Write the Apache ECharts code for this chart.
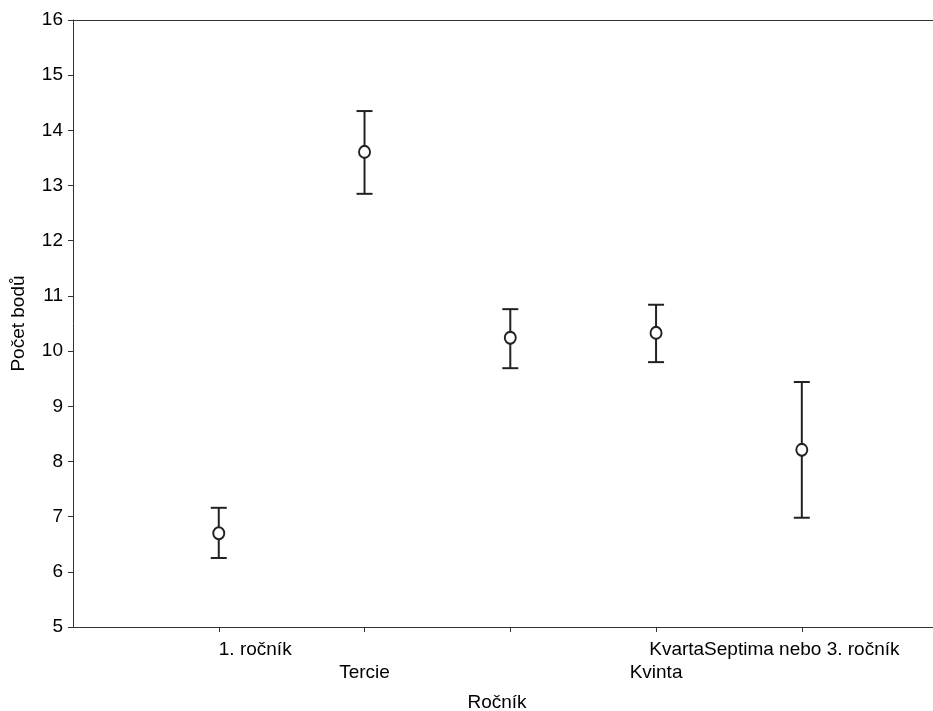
<!DOCTYPE html>
<html>
<head>
<meta charset="utf-8">
<script src="https://cdn.jsdelivr.net/npm/echarts@6/dist/echarts.min.js"></script>
<style>
  html, body { margin: 0; padding: 0; background: #fff; }
  #chart { width: 933px; height: 711px; }
</style>
</head>
<body>
<div id="chart"></div>
<script>
// Mean score per school year with its interval bounds
const categories = ['1. ročník', 'Tercie', 'Kvarta', 'Kvinta', 'Septima nebo 3. ročník'];
const positions = [1, 2, 3, 4, 5];
const means = [6.70, 13.61, 10.24, 10.33, 8.21];
const lower = [6.25, 12.85, 9.69, 9.80, 6.98];
const upper = [7.16, 14.35, 10.76, 10.84, 9.44];
const yTicks = [5, 6, 7, 8, 9, 10, 11, 12, 13, 14, 15, 16];

const FONT = '"Liberation Sans", Arial, sans-serif';
const LABEL_SIZE = 19;
const INK = '#222';

// measure label widths so the staggered category labels can be placed
const ctx = document.createElement('canvas').getContext('2d');
ctx.font = LABEL_SIZE + 'px ' + FONT;
const widthOf = s => ctx.measureText(s).width;

const gridLeft = 73, gridRight = 0, xMax = 5.9;
const unitPx = (933 - gridLeft - gridRight) / xMax;

// horizontal nudge (px) of each category label; second-row labels flagged
const shifts = [
  widthOf(categories[0]) / 2,
  0,
  2 * unitPx - widthOf(categories[4]) / 2 - widthOf(categories[2]) / 2,
  0,
  0
];
const secondRow = [false, true, false, true, false];

const rich = {};
categories.forEach((c, i) => {
  rich['c' + i] = {
    fontSize: LABEL_SIZE, fontFamily: FONT, color: '#000', lineHeight: 23,
    padding: [0, 0, 0, 2 * shifts[i]]
  };
});

const chart = echarts.init(document.getElementById('chart'));
chart.setOption({
  backgroundColor: '#fff',
  animation: false,
  grid: { left: gridLeft, right: gridRight, top: 20, bottom: 84, outerBoundsMode: 'none' },
  xAxis: [{
    type: 'value', min: 0, max: xMax, interval: 1,
    name: 'Ročník', nameLocation: 'middle', nameGap: 66,
    nameTextStyle: { fontSize: LABEL_SIZE, fontFamily: FONT, color: '#000', padding: [0, 12, 0, 0] },
    axisLine: { show: true, lineStyle: { color: '#333', width: 1 } },
    axisTick: { show: true, length: 5, lineStyle: { color: '#333' } },
    splitLine: { show: false },
    axisLabel: {
      margin: 11, lineHeight: 23, fontSize: LABEL_SIZE, fontFamily: FONT, color: '#000',
      showMaxLabel: false, showMinLabel: false,
      rich: rich,
      formatter: v => {
        const i = positions.indexOf(v);
        if (i < 0) return '';
        const token = '{c' + i + '|' + categories[i] + '}';
        return secondRow[i] ? ' \n' + token : token;
      }
    }
  }, {
    type: 'value', position: 'top', min: 0, max: xMax,
    axisLine: { show: true, onZero: false, lineStyle: { color: '#333', width: 1 } },
    axisTick: { show: false }, axisLabel: { show: false }, splitLine: { show: false }
  }],
  yAxis: {
    type: 'value', min: yTicks[0], max: yTicks[yTicks.length - 1], interval: 1,
    name: 'Počet bodů', nameLocation: 'middle', nameGap: 45, nameRotate: 90,
    nameTextStyle: { fontSize: LABEL_SIZE, fontFamily: FONT, color: '#000' },
    axisLine: { show: true, lineStyle: { color: '#333', width: 1 } },
    axisTick: { show: true, length: 5, lineStyle: { color: '#333' } },
    splitLine: { show: false },
    axisLabel: { margin: 10, fontSize: LABEL_SIZE, fontFamily: FONT, color: '#000' }
  },
  series: [{
    type: 'custom',
    data: positions.map((p, i) => [p, lower[i], upper[i]]),
    renderItem: (params, api) => {
      const x = api.value(0);
      const lo = api.coord([x, api.value(1)]);
      const hi = api.coord([x, api.value(2)]);
      const cap = 8;
      const st = { stroke: INK, lineWidth: 2 };
      return {
        type: 'group',
        children: [
          { type: 'line', shape: { x1: hi[0], y1: hi[1], x2: lo[0], y2: lo[1] }, style: st },
          { type: 'line', shape: { x1: hi[0] - cap, y1: hi[1], x2: hi[0] + cap, y2: hi[1] }, style: st },
          { type: 'line', shape: { x1: lo[0] - cap, y1: lo[1], x2: lo[0] + cap, y2: lo[1] }, style: st }
        ]
      };
    },
    z: 2
  }, {
    type: 'scatter',
    data: positions.map((p, i) => [p, means[i]]),
    symbol: 'circle', symbolSize: [11, 12],
    itemStyle: { color: '#fff', borderColor: INK, borderWidth: 2, opacity: 1 },
    z: 3
  }]
});
</script>
</body>
</html>
